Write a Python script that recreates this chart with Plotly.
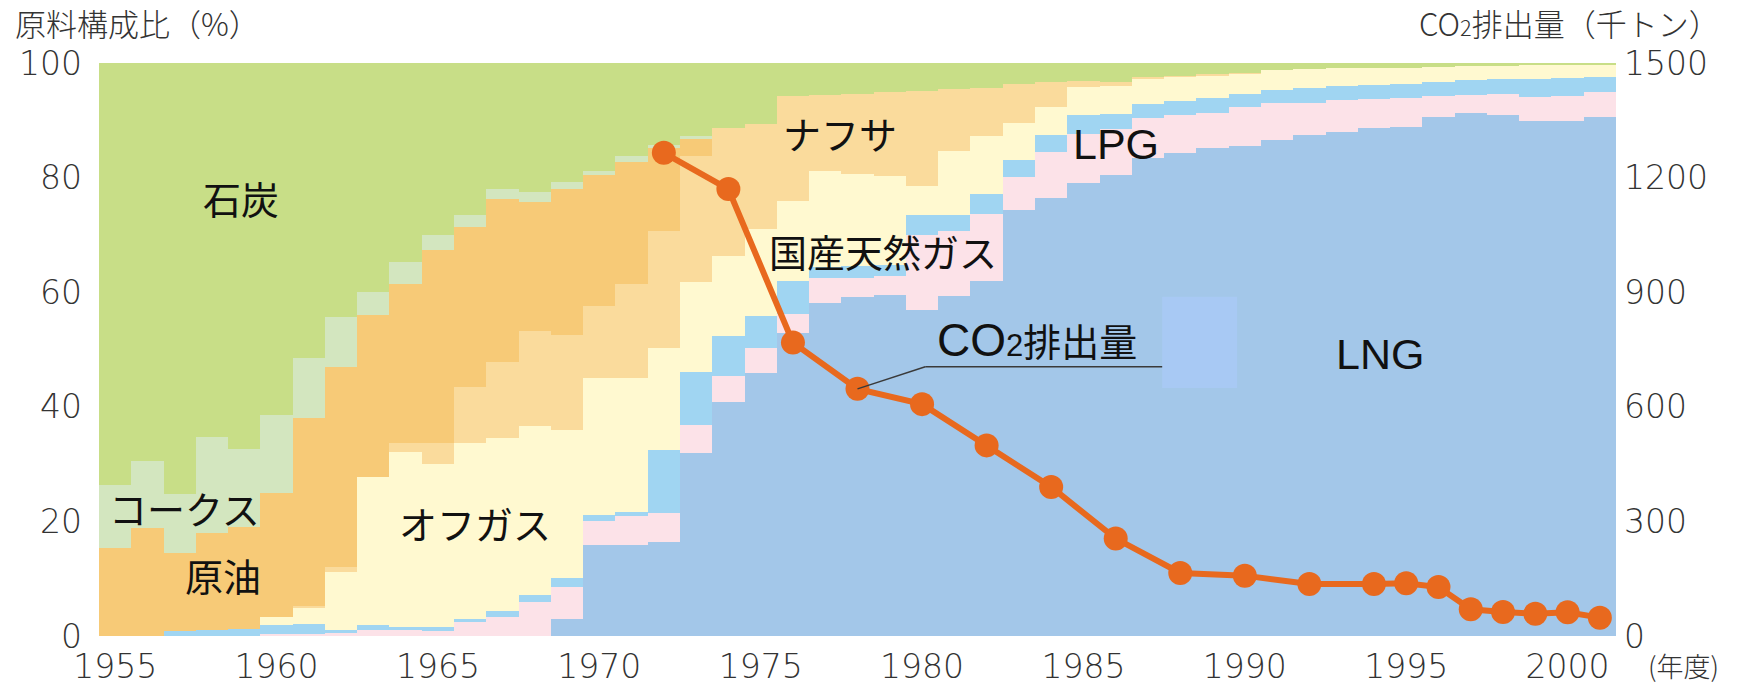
import plotly.graph_objects as go

# Fiscal years shown on the horizontal axis
years = list(range(1955, 2002))

# Raw-material composition (%) by fiscal year, stacked bottom to top
lng = [0, 0, 0, 0, 0,  0, 0, 0, 0, 0,  0, 0, 0, 0, 3.0,
       15.8, 15.9, 16.4, 31.9, 40.9,  45.9, 52.8, 58.2, 59.2, 59.5,
       56.9, 59.4, 61.9, 74.3, 76.5,  79.0, 80.4, 83.4, 84.3, 85.2,
       85.5, 86.5, 87.4, 88.0, 88.6,  88.9, 90.6, 91.2, 90.9, 89.8,
       89.9, 90.6]
domestic_gas = [0, 0, 0, 0, 0,  0.3, 0.3, 0.5, 1.0, 1.1,  0.9, 2.4, 3.4, 5.9, 5.5,
                4.3, 5.0, 5.0, 4.9, 4.5,  4.3, 3.4, 4.2, 3.3, 3.3,
                13.1, 11.2, 11.8, 5.8, 8.0,  8.6, 8.1, 7.0, 6.6, 6.1,
                6.9, 6.5, 5.7, 5.5, 5.1,  5.0, 3.6, 3.2, 3.7, 4.2,
                4.4, 4.3]
lpg = [0, 0, 0.8, 1.0, 1.3,  1.7, 1.8, 0.5, 0.9, 0.5,  0.6, 0.6, 0.9, 1.3, 1.6,
       1.1, 0.8, 11.0, 9.3, 6.9,  5.7, 5.8, 2.0, 2.0, 2.0,
       3.5, 2.9, 3.5, 2.9, 2.9,  3.3, 2.6, 2.5, 2.4, 2.6,
       2.2, 2.3, 2.6, 2.4, 2.4,  2.5, 2.5, 2.6, 2.6, 3.2,
       3.1, 2.6]
off_gas = [0, 0, 0, 0, 0,  1.4, 2.9, 10.1, 25.8, 30.5,  28.6, 30.6, 30.3, 29.4, 25.8,
           23.9, 23.4, 17.9, 15.7, 14.1,  15.2, 14.0, 16.7, 16.1, 15.5,
           5.1, 11.2, 10.0, 6.5, 5.0,  4.9, 4.9, 4.4, 4.3, 4.0,
           3.6, 3.4, 3.3, 3.2, 3.0,  2.8, 2.6, 2.5, 2.3, 2.4,
           2.3, 2.2]
naphtha = [0, 0, 0, 0, 0,  0, 0.3, 0.9, 0, 1.5,  3.5, 9.8, 13.2, 16.6, 16.6,
           12.5, 16.4, 20.4, 21.9, 22.2,  18.2, 18.2, 13.4, 14.0, 14.7,
           16.6, 10.7, 8.5, 6.8, 4.3,  1.1, 0.6, 0.3, 0.2, 0.1,
           0.1, 0, 0, 0, 0,  0, 0, 0, 0, 0,
           0, 0]
crude_oil = [15.3, 18.8, 13.7, 17.0, 17.7,  21.6, 32.7, 35.0, 28.4, 27.9,
             33.8, 28.0, 28.5, 22.6, 25.5,  22.8, 21.3, 14.5, 3.0, 0,
             0, 0, 0, 0, 0,  0, 0, 0, 0, 0,  0, 0, 0, 0, 0,
             0, 0, 0, 0, 0,  0, 0, 0, 0, 0,  0, 0]
coke = [11.1, 11.7, 10.2, 16.7, 13.6,  13.6, 10.6, 8.7, 4.0, 3.8,
        2.5, 2.0, 1.7, 1.7, 1.3,  0.7, 0.9, 0.5, 0.5, 0,
        0, 0, 0, 0, 0,  0, 0, 0, 0, 0,  0, 0, 0, 0, 0,
        0, 0, 0, 0, 0,  0, 0, 0, 0, 0,  0, 0]
coal = [73.6, 69.5, 75.3, 65.3, 67.4,  61.4, 51.4, 44.3, 39.9, 34.7,
        30.1, 26.6, 22.0, 22.5, 20.7,  18.9, 16.3, 14.3, 12.8, 11.4,
        10.7, 5.8, 5.5, 5.4, 5.0,  4.8, 4.6, 4.3, 3.7, 3.3,
        3.1, 3.4, 2.4, 2.2, 2.0,  1.7, 1.3, 1.0, 0.9, 0.9,
        0.8, 0.7, 0.5, 0.5, 0.4,  0.3, 0.3]

# CO2 emissions (thousand tonnes)
co2_years = [1972, 1974, 1976, 1978, 1980, 1982, 1984, 1986, 1988, 1990,
             1992, 1994, 1995, 1996, 1997, 1998, 1999, 2000, 2001]
co2_kt = [1265, 1170, 768, 647, 607, 499, 390, 255, 165, 158,
          136, 136, 138, 128, 70, 63, 58, 62, 48]

# Axis tick labels
x_ticks = [1955, 1960, 1965, 1970, 1975, 1980, 1985, 1990, 1995, 2000]
pct_ticks = [0, 20, 40, 60, 80, 100]
co2_ticks = [0, 300, 600, 900, 1200, 1500]

layers = [
    ("LNG", lng, "#A3C7E9"),
    ("国産天然ガス", domestic_gas, "#FCE2E8"),
    ("LPG", lpg, "#A0D5F2"),
    ("オフガス", off_gas, "#FFF9D0"),
    ("ナフサ", naphtha, "#FADB9C"),
    ("原油", crude_oil, "#F7CA77"),
    ("コークス", coke, "#D3E6BF"),
    ("石炭", coal, "#C8DE87"),
]

fig = go.Figure()
for name, vals, color in layers:
    fig.add_trace(go.Bar(
        x=years, y=vals, name=name, width=1.0,
        marker=dict(color=color, line=dict(width=0)),
    ))

CO2_COLOR = "#E8691E"
fig.add_trace(go.Scatter(
    x=co2_years, y=co2_kt, yaxis="y2", name="CO2排出量",
    mode="lines+markers",
    line=dict(color=CO2_COLOR, width=6),
    marker=dict(size=24, color=CO2_COLOR),
))

TICK_FONT = dict(family="DejaVu Sans", size=33, color="#333333", weight=200)
LABEL_FONT = dict(family="Noto Sans CJK JP", size=38, color="#111111")
LATIN_LABEL_FONT = dict(family="Liberation Sans", size=43, color="#111111")
TITLE_FONT = dict(family="Noto Sans CJK JP", size=31, color="#333333", weight=300)
CO2_TITLE = "CO<span style='font-size:70%'>2</span>"
CO2_LABEL = ("<span style='font-family:Liberation Sans;font-size:46px'>CO</span>"
             "<span style='font-family:Liberation Sans;font-size:31px'>2</span>")

fig.update_layout(
    width=1739, height=686,
    margin=dict(l=99, r=123, t=63, b=50, autoexpand=False),
    barmode="stack", bargap=0, showlegend=False,
    plot_bgcolor="white", paper_bgcolor="white",
    xaxis=dict(range=[1954.5, 2001.5], tickvals=x_ticks,
               ticktext=[str(v) for v in x_ticks], automargin=False,
               showgrid=False, zeroline=False, showline=False, ticks="",
               tickfont=TICK_FONT, ticklabelstandoff=8),
    yaxis=dict(range=[0, 100], tickvals=pct_ticks, automargin=False,
               showgrid=False, zeroline=False, showline=False, ticks="",
               tickfont=TICK_FONT, ticklabelstandoff=16),
    yaxis2=dict(range=[0, 1500], tickvals=co2_ticks, overlaying="y", side="right",
                automargin=False,
                showgrid=False, zeroline=False, showline=False, ticks="",
                tickfont=TICK_FONT, ticklabelstandoff=7),
)

# Series labels drawn on the chart
labels = [
    ("石炭", 1958.9, 76.6, LABEL_FONT),
    ("コークス", 1957.15, 22.4, LABEL_FONT),
    ("原油", 1958.35, 10.7, LABEL_FONT),
    ("オフガス", 1966.15, 19.8, LABEL_FONT),
    ("ナフサ", 1977.45, 87.8, LABEL_FONT),
    ("国産天然ガス", 1978.8, 67.3, LABEL_FONT),
    ("LPG", 1986.0, 85.9, LATIN_LABEL_FONT),
    (CO2_LABEL + "排出量", 1983.55, 51.8, LABEL_FONT),
    ("LNG", 1994.2, 49.2, LATIN_LABEL_FONT),
]
for text, lx, ly, font in labels:
    fig.add_annotation(x=lx, y=ly, xref="x", yref="y", text=text, showarrow=False,
                       font=font, xanchor="center", yanchor="middle")

# Axis titles and unit
fig.add_annotation(x=-0.057, y=1.070, xref="paper", yref="paper", text="原料構成比（%）",
                   showarrow=False, font=TITLE_FONT, xanchor="left", yanchor="middle")
fig.add_annotation(x=1.070, y=1.070, xref="paper", yref="paper",
                   text=CO2_TITLE + "排出量（千トン）",
                   showarrow=False, font=TITLE_FONT, xanchor="right", yanchor="middle")
fig.add_annotation(x=1.020, y=-0.051, xref="paper", yref="paper", text="(年度)",
                   showarrow=False, font=dict(TITLE_FONT, size=27), xanchor="left",
                   yanchor="middle")

# Leader from the 1978 point to the CO2 label, and the label backdrop panel
co2_1978 = co2_kt[co2_years.index(1978)]
leader_y = 705
fig.add_shape(type="rect", xref="x", yref="y", x0=1987.44, x1=1989.76, y0=43.3, y1=59.2,
              fillcolor="#A8C9F4", line=dict(width=0), layer="above")
fig.add_shape(type="line", xref="x", yref="y2", x0=1978, y0=co2_1978, x1=1980.1, y1=leader_y,
              line=dict(color="#3a3a3a", width=1.5))
fig.add_shape(type="line", xref="x", yref="y2", x0=1980.1, y0=leader_y, x1=1987.44, y1=leader_y,
              line=dict(color="#3a3a3a", width=1.5))

# Faint seams between some of the later yearly columns
for sx in [1991.5, 1994.5, 1996.5]:
    fig.add_shape(type="line", xref="x", yref="y", x0=sx, x1=sx, y0=0, y1=100,
                  line=dict(color="rgba(255,255,255,0.3)", width=1), layer="below")

fig.write_html("out.html")
